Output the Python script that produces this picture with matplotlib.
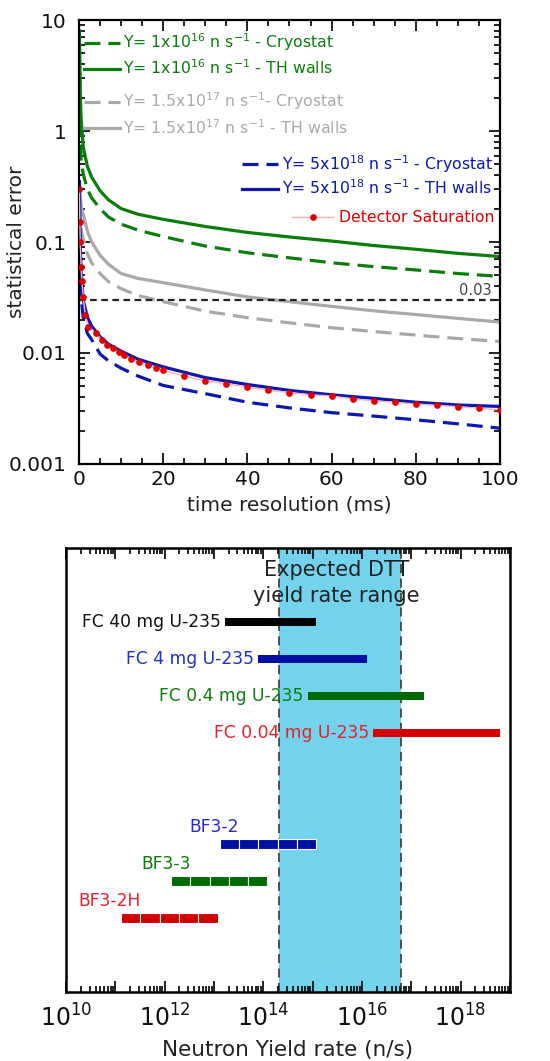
import numpy as np
import matplotlib.pyplot as plt
from matplotlib.ticker import LogLocator, MultipleLocator, FuncFormatter, NullFormatter

# ---- top panel: statistical error vs time resolution ----
t_ms = [0.1, 0.3, 0.5, 1, 2, 3, 5, 7, 10, 14, 20, 30, 40, 50, 60, 70, 80, 90, 100]
err_1e16_walls = [8.0, 2.2, 1.3, 0.72, 0.48, 0.385, 0.29, 0.24, 0.20, 0.178, 0.16,
                  0.138, 0.122, 0.111, 0.102, 0.093, 0.086, 0.079, 0.074]
err_1e16_cryo = [5.5, 1.4, 0.55, 0.41, 0.30, 0.25, 0.20, 0.168, 0.145, 0.128, 0.112,
                 0.092, 0.080, 0.072, 0.065, 0.060, 0.056, 0.052, 0.049]
err_15e17_walls = [0.35, 0.25, 0.21, 0.18, 0.125, 0.10, 0.076, 0.063, 0.052, 0.047, 0.043,
                   0.037, 0.032, 0.029, 0.0263, 0.024, 0.0222, 0.0205, 0.019]
err_15e17_cryo = [0.22, 0.16, 0.13, 0.107, 0.078, 0.065, 0.052, 0.044, 0.038, 0.033, 0.029,
                  0.0238, 0.0208, 0.0187, 0.0169, 0.0156, 0.0145, 0.0135, 0.0127]
err_5e18_walls = [0.35, 0.10, 0.055, 0.030, 0.021, 0.0175, 0.0140, 0.0120, 0.0104, 0.0088, 0.0075,
                  0.0060, 0.0052, 0.0046, 0.0042, 0.0039, 0.0036, 0.0034, 0.0033]
err_5e18_cryo = [0.20, 0.06, 0.032, 0.021, 0.0150, 0.0132, 0.0098, 0.0085, 0.0073, 0.0062, 0.0051,
                 0.0043, 0.0036, 0.0032, 0.0029, 0.0027, 0.0025, 0.0023, 0.0021]

t_sat = [0.1, 0.2, 0.3, 0.5, 0.7, 1, 1.5, 2.2, 4.1, 5.4, 6.7, 8.1, 9.5, 10.8, 12.3, 14.3,
         16.3, 18.3, 20, 25, 30, 35, 40, 45, 50, 55, 60, 65, 70, 75, 80, 85, 90, 95, 100]
err_sat = [0.30, 0.15, 0.10, 0.06, 0.045, 0.032, 0.022, 0.0173, 0.0151, 0.0131, 0.0118,
           0.0110, 0.0103, 0.0096, 0.0089, 0.0083, 0.0078, 0.0073, 0.0070, 0.0062, 0.0056,
           0.0053, 0.0049, 0.00464, 0.0044, 0.0042, 0.0041, 0.00386, 0.0037, 0.0036,
           0.00347, 0.00338, 0.00328, 0.00318, 0.00306]
err_limit = 0.03

# ---- bottom panel: detector ranges vs neutron yield ----
fc_labels = ['FC 40 mg U-235', 'FC 4 mg U-235', 'FC 0.4 mg U-235', 'FC 0.04 mg U-235']
fc_min = [1.7e13, 8e13, 8e14, 1.7e16]
fc_max = [1.2e15, 1.25e16, 1.8e17, 6.3e18]
fc_row = [2, 3, 4, 5]
bf_labels = ['BF3-2', 'BF3-3', 'BF3-2H']
bf_min = [1.3e13, 1.35e12, 1.3e11]
bf_max = [1.2e15, 1.2e14, 1.2e13]
bf_row = [8, 9, 10]
dtt_range = [2.1e14, 6.2e16]

green, gray, blue, red = '#0a7d0a', '#a9a9a9', '#0a18b0', '#e00000'

fig = plt.figure(figsize=(5.5, 10.61), dpi=100)
ax = fig.add_axes([0.1436, 0.5627, 0.7655, 0.4184])
ax2 = fig.add_axes([0.12, 0.065, 0.807, 0.4185])

lw = 2.3
dsh = (5, 2.5)
l1, = ax.plot(t_ms, err_1e16_cryo, color=green, lw=lw, dashes=dsh)
l2, = ax.plot(t_ms, err_1e16_walls, color=green, lw=lw)
l3, = ax.plot(t_ms, err_15e17_cryo, color=gray, lw=lw, dashes=dsh)
l4, = ax.plot(t_ms, err_15e17_walls, color=gray, lw=lw)
l5, = ax.plot(t_ms, err_5e18_cryo, color=blue, lw=lw, dashes=dsh)
l6, = ax.plot(t_ms, err_5e18_walls, color=blue, lw=lw)
ax.axhline(err_limit, color='#222222', lw=1.6, dashes=(3, 2))
ax.text(98, err_limit * 1.04, '0.03', ha='right', va='bottom', fontsize=10.5, color='#444444')
l7, = ax.plot(t_sat, err_sat, color='#ffb0b0', lw=1.0, marker='o', ms=3.8,
              mfc=red, mec=red, zorder=5)

ax.set_yscale('log')
ax.set_xlim(0, 100)
ax.set_ylim(0.001, 10)
ax.xaxis.set_major_locator(MultipleLocator(20))
ax.xaxis.set_minor_locator(MultipleLocator(5))
ax.yaxis.set_major_locator(LogLocator(base=10, numticks=10))
ax.yaxis.set_minor_locator(LogLocator(base=10, subs=np.arange(2, 10), numticks=10))
ax.yaxis.set_major_formatter(FuncFormatter(lambda v, p: f'{v:g}'))
ax.yaxis.set_minor_formatter(NullFormatter())
ax.tick_params(which='both', direction='in', top=True, right=True, width=1.3,
               labelsize=14.5, colors='#111111')
ax.tick_params(which='major', length=8)
ax.tick_params(which='minor', length=4.5)
ax.tick_params(axis='y', pad=9)
ax.tick_params(axis='x', pad=4)
ax.set_xlabel('time resolution (ms)', fontsize=14.5, labelpad=5, color='#222222')
ax.set_ylabel('statistical error', fontsize=14.5, color='#222222')
ax.yaxis.set_label_coords(-0.125, 0.5)

leg_kw = dict(frameon=False, fontsize=11.3, borderpad=0, borderaxespad=0,
              handlelength=2.3, handletextpad=0.2, labelspacing=0.35)
lg1 = ax.legend([l1, l2], [r'Y= 1x10$^{16}$ n s$^{-1}$ - Cryostat',
                           r'Y= 1x10$^{16}$ n s$^{-1}$ - TH walls'],
                loc='upper left', bbox_to_anchor=(0.012, 0.974), labelcolor=green, **leg_kw)
lg2 = ax.legend([l3, l4], [r'Y= 1.5x10$^{17}$ n s$^{-1}$- Cryostat',
                           r'Y= 1.5x10$^{17}$ n s$^{-1}$ - TH walls'],
                loc='upper left', bbox_to_anchor=(0.012, 0.841), labelcolor=gray, **leg_kw)
lg3 = ax.legend([l5, l6], [r'Y= 5x10$^{18}$ n s$^{-1}$ - Cryostat',
                           r'Y= 5x10$^{18}$ n s$^{-1}$ - TH walls'],
                loc='upper right', bbox_to_anchor=(0.982, 0.700), labelcolor=blue,
                **{**leg_kw, 'labelspacing': 0.22})
lg4 = ax.legend([l7], ['Detector Saturation'], numpoints=1,
                loc='upper right', bbox_to_anchor=(0.988, 0.571), labelcolor=red,
                **{**leg_kw, 'handlelength': 2.6, 'handletextpad': 0.4})
for lg in (lg1, lg2, lg3):
    ax.add_artist(lg)

for sp in ax.spines.values():
    sp.set_linewidth(1.6)

# ---- bottom panel ----
ax2.set_xscale('log')
ax2.set_xlim(1e10, 1e19)
ax2.set_ylim(12, 0)
ax2.axvspan(dtt_range[0], dtt_range[1], color='#73d3ec', lw=0, zorder=0)
for xv in dtt_range:
    ax2.axvline(xv, color='#444444', lw=1.3, dashes=(5, 3), zorder=1)
ax2.text(np.sqrt(dtt_range[0] * dtt_range[1]) * 0.85, 0.95, 'Expected DTT\nyield rate range',
         ha='center', va='center', fontsize=15, linespacing=1.35, color='#222222', zorder=3)

fc_bar_colors = ['#000000', '#0010a0', '#006a00', '#d40000']
fc_text_colors = ['#111111', '#2030c8', '#0e7d0e', '#e8202a']
for lab, lo, hi, r, bc, tc in zip(fc_labels, fc_min, fc_max, fc_row, fc_bar_colors, fc_text_colors):
    ax2.barh(r, hi - lo, left=lo, height=0.24, color=bc, zorder=2)
    ax2.annotate(lab, (lo, r), xytext=(-3, 0), textcoords='offset points',
                 ha='right', va='center', fontsize=12.3, color=tc, zorder=3)

bf_bar_colors = ['#0010a0', '#006a00', '#d40000']
bf_text_colors = ['#2a2ad0', '#0e7d0e', '#e8202a']
for lab, lo, hi, r, bc, tc in zip(bf_labels, bf_min, bf_max, bf_row, bf_bar_colors, bf_text_colors):
    edges = np.geomspace(lo, hi, 6)
    ax2.barh([r] * 5, np.diff(edges), left=edges[:-1], height=0.26, color=bc,
             edgecolor='white', lw=0.8, zorder=2)
    ax2.annotate(lab, (lo, r), xytext=(14, 6), textcoords='offset points',
                 ha='right', va='bottom', fontsize=12.3, color=tc, zorder=3)

ax2.xaxis.set_major_locator(LogLocator(base=10, numticks=20))
ax2.xaxis.set_minor_locator(LogLocator(base=10, subs=np.arange(2, 10), numticks=20))
ax2.xaxis.set_major_formatter(FuncFormatter(
    lambda v, p: f'$10^{{{int(round(np.log10(v)))}}}$' if int(round(np.log10(v))) % 2 == 0 else ''))
ax2.xaxis.set_minor_formatter(NullFormatter())
ax2.set_yticks([])
ax2.tick_params(which='both', direction='in', top=True, width=1.3, colors='#111111')
ax2.tick_params(which='major', length=8, labelsize=17, pad=9)
ax2.tick_params(which='minor', length=4)
ax2.set_xlabel('Neutron Yield rate (n/s)', fontsize=15.5, labelpad=6, color='#222222')
for sp in ax2.spines.values():
    sp.set_linewidth(1.8)

fig.savefig('out.png', dpi=100)
